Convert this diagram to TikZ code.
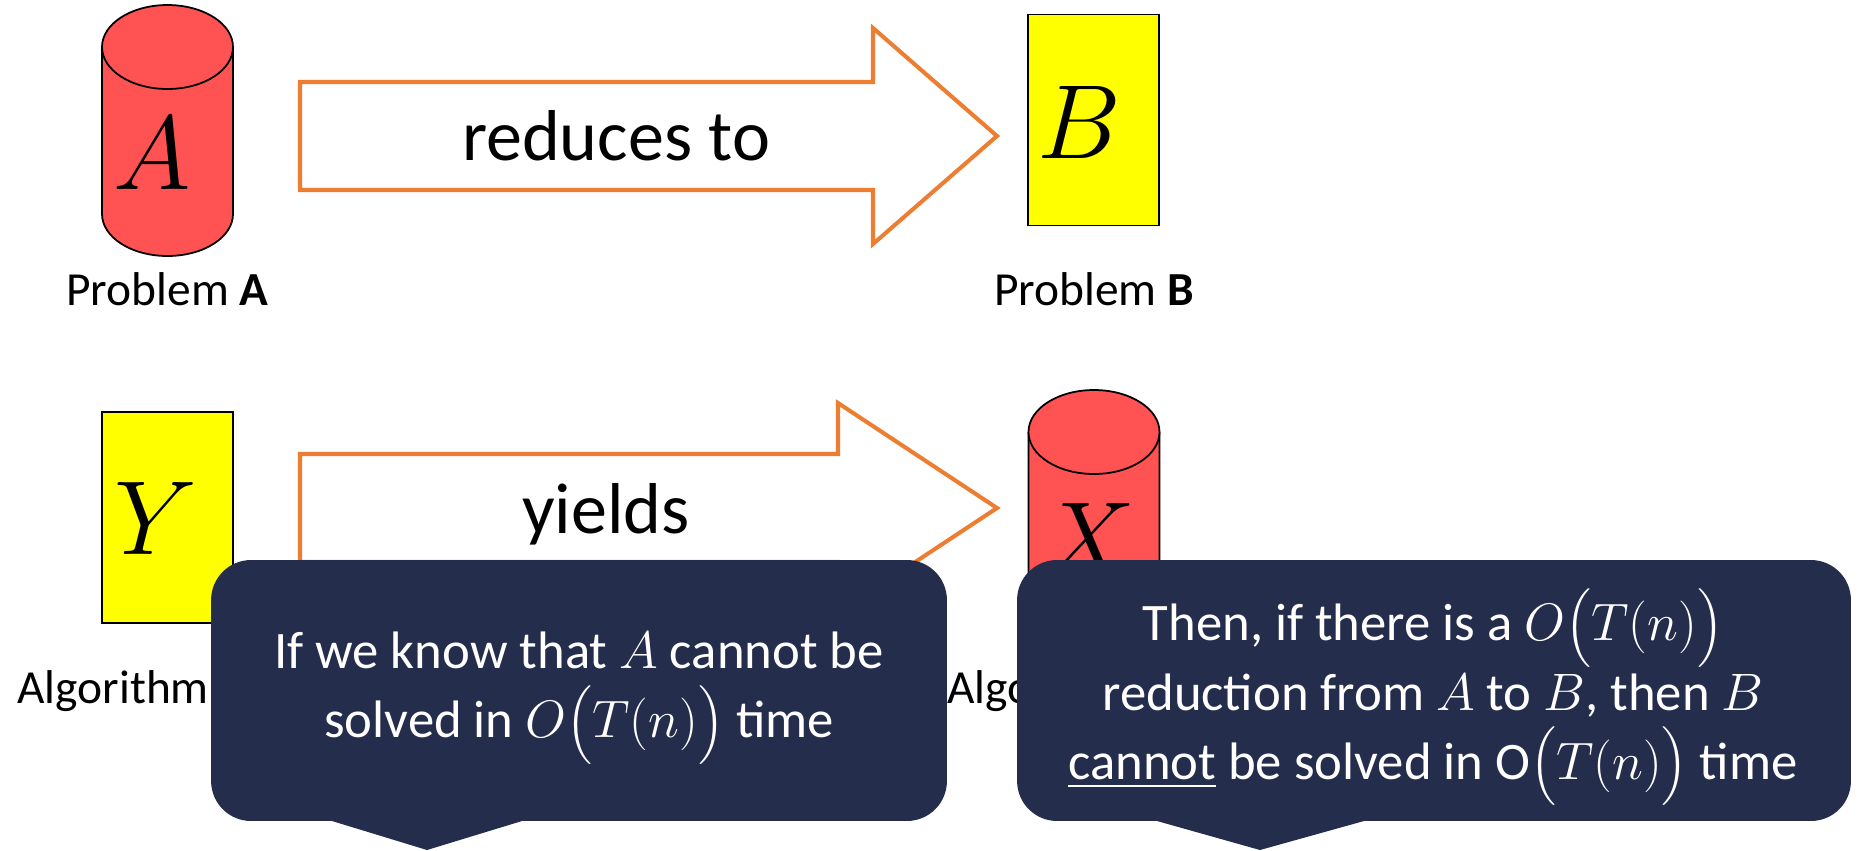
\RequirePackage{fix-cm}
\documentclass[tikz,border=0pt]{standalone}
\usepackage{exscale}
\usepackage{fontspec}
\setmainfont{Carlito}
\usepackage{xcolor}
\usetikzlibrary{positioning}

\definecolor{canred}{HTML}{FF5252}
\definecolor{boxyellow}{HTML}{FFFF00}
\definecolor{arroworange}{HTML}{ED7D31}
\definecolor{tipnavy}{HTML}{252D4C}

\tikzset{
  can/.style={fill=canred, draw=black, line width=1pt},
  probbox/.style={draw=black, fill=boxyellow, line width=1pt, minimum width=2.62cm, minimum height=4.22cm, inner sep=0pt},
  bigletter/.style={font=\fontsize{60}{72}\selectfont, inner sep=0pt},
  blockarrow/.style={draw=arroworange, line width=2.3pt, fill=white, line join=miter},
  arrowlabel/.style={font=\fontsize{41}{49}\selectfont, anchor=base, inner sep=0pt},
  problabel/.style={font=\fontsize{27}{32}\selectfont, anchor=base, inner sep=0pt},
  tipbox/.style={fill=tipnavy, rounded corners=0.8cm, minimum height=5.22cm},
  tiptext/.style={text=white, align=center, inner sep=0pt, font=\fontsize{30}{39.5}\selectfont}
}

\begin{document}
\begin{tikzpicture}[x=0.02cm, y=-0.02cm]
  \useasboundingbox (0,0) rectangle (1860,850);

  % top row: problem A reduces to problem B
  \filldraw[can] (102,47) -- (102,214) arc[start angle=180, end angle=0, x radius=65.5, y radius=42] -- (233,47);
  \filldraw[can] (167.5,47) ellipse[x radius=65.5, y radius=42];
  \node[bigletter] (probA) at (152,153) {$A$};
  \node[problabel] (labA) at (167.5,305) {Problem \textbf{A}};

  \draw[blockarrow] (300,82) -- (873,82) -- (873,28) -- (997,136) -- (873,244) -- (873,190) -- (300,190) -- cycle;
  \node[arrowlabel] (reduces) at (616,160) {reduces to};

  \node[probbox] (boxB) at (1093.5,120) {};
  \node[bigletter] (probB) at (1079,122) {$B$};
  \node[problabel] (labB) at (1094,305) {Problem \textbf{B}};

  % bottom row: algorithm Y yields algorithm X
  \node[probbox] (boxY) at (167.5,517.5) {};
  \node[bigletter] (algY) at (156,518) {$Y$};
  \node[problabel, anchor=base west] (labY) at (17,703) {Algorithm};

  \draw[blockarrow] (300,454) -- (838,454) -- (838,403) -- (997,508) -- (838,613) -- (838,562) -- (300,562) -- cycle;
  \node[arrowlabel] (yields) at (606,533) {yields};

  \filldraw[can] (1028.5,432) -- (1028.5,598) arc[start angle=180, end angle=0, x radius=65.5, y radius=42] -- (1159.5,432);
  \filldraw[can] (1094,432) ellipse[x radius=65.5, y radius=42];
  \node[bigletter] (algX) at (1088,539) {$X$};
  \node[problabel, anchor=base west] (labX) at (947,703) {Algo};

  % callouts
  \node[tipbox, minimum width=14.72cm] (tipL) at (579,690.5) {};
  \fill[tipnavy] (332,810) -- (332,821) -- (427,850) -- (522,821) -- (522,810) -- cycle;
  \node[tiptext] (tipLtext) at (579,698)
    {If we know that $A$ cannot be\\ solved in $O\big(T(n)\big)$ time};

  \node[tipbox, minimum width=16.68cm] (tipR) at (1434,690.5) {};
  \fill[tipnavy] (1157,810) -- (1157,821) -- (1260,850) -- (1364,821) -- (1364,810) -- cycle;
  \node[tiptext] (tipRtext) at (1433,697)
    {Then, if there is a $O\big(T(n)\big)$\\ reduction from $A$ to $B$, then $B$\\ \underline{cannot} be solved in O$\big(T(n)\big)$ time};
\end{tikzpicture}
\end{document}
